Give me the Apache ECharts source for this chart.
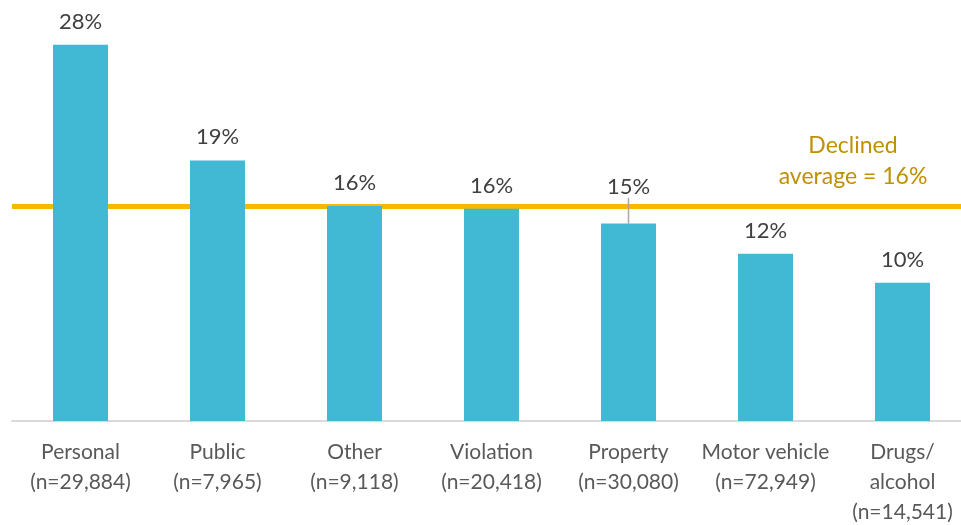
<!DOCTYPE html>
<html>
<head>
<meta charset="utf-8">
<script src="https://cdn.jsdelivr.net/npm/echarts@6/dist/echarts.min.js"></script>
<style>
  html, body { margin: 0; padding: 0; background: #fff; }
  #chart { width: 961px; height: 525px; }
</style>
</head>
<body>
<div id="chart"></div>
<script>
// offence types, sample sizes and declined rate (%) per type
const categories = ['Personal', 'Public', 'Other', 'Violation', 'Property', 'Motor vehicle', 'Drugs/\nalcohol']
const sampleSizes = [29884, 7965, 9118, 20418, 30080, 72949, 14541]
const declinedRates = [28.0, 19.4, 16.0, 15.8, 14.7, 12.45, 10.3]
const declinedAverage = 16

const axisLabels = categories.map((c, i) => c + '\n(n=' + sampleSizes[i].toLocaleString('en-US') + ')')

const font = 'Lato, "Open Sans", sans-serif'

// property label is lifted above the average line, with a leader line back to its bar
const barData = declinedRates.map((v, i) => i === 4
  ? { value: v, labelLine: { show: true, lineStyle: { color: '#a6a6a6', width: 1.5 } } }
  : v)

let myChart = echarts.init(document.getElementById('chart'))
let option = {
  animation: false,
  grid: {
    left: 12,
    right: -10,
    top: 18,
    bottom: 104,
    outerBoundsMode: 'none'
  },
  xAxis: {
    type: 'category',
    data: axisLabels,
    axisTick: { show: false },
    axisLine: { lineStyle: { color: '#d9d9d9', width: 2 } },
    axisLabel: {
      interval: 0,
      margin: 16,
      color: '#595959',
      fontFamily: font,
      fontSize: 21,
      lineHeight: 30
    }
  },
  yAxis: {
    type: 'value',
    min: 0,
    max: 30,
    show: false,
    splitLine: { show: false }
  },
  series: [
    {
      type: 'bar',
      data: barData,
      barWidth: 55,
      itemStyle: { color: '#41b8d4' },
      label: {
        show: true,
        position: 'top',
        distance: 12,
        color: '#404040',
        fontFamily: font,
        fontSize: 22,
        backgroundColor: '#fff',
        padding: [2, 14, 0, 14],
        formatter: p => Math.round(p.value) + '%'
      },
      labelLayout: params => params.dataIndex === 4 ? { dy: -14 } : {},
      markLine: {
        silent: true,
        symbol: 'none',
        z: 1,
        lineStyle: { color: '#f7b900', width: 5, type: 'solid' },
        label: { show: false },
        data: [{ yAxis: declinedAverage }]
      }
    }
  ],
  graphic: [
    {
      type: 'text',
      x: 853,
      y: 130,
      style: {
        text: 'Declined\naverage = ' + declinedAverage + '%',
        fill: '#c09000',
        font: '23px ' + font,
        lineHeight: 31,
        align: 'center',
        verticalAlign: 'top'
      }
    }
  ]
}
myChart.setOption(option, true)
</script>
</body>
</html>
